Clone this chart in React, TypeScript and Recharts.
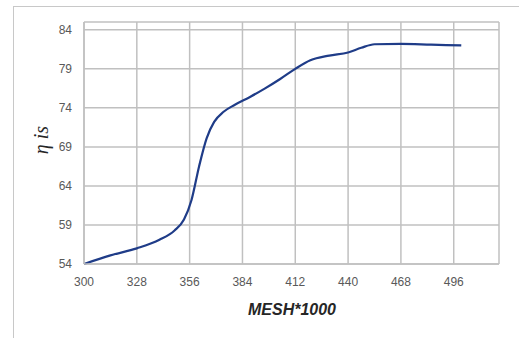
import { CartesianGrid, Line, LineChart, XAxis, YAxis } from "recharts";

const meshValues = [300, 314, 328, 340, 348, 353, 357, 361, 365, 369, 374, 380, 388, 396, 404, 412, 420, 430, 440, 447, 454, 468, 484, 500];
const etaValues = [54, 55.1, 56.0, 57.1, 58.3, 59.7, 62.2, 66.5, 70.1, 72.2, 73.5, 74.4, 75.4, 76.5, 77.7, 79.0, 80.1, 80.7, 81.1, 81.7, 82.15, 82.2, 82.1, 82.0];
const xTicks = [300, 328, 356, 384, 412, 440, 468, 496];
const yTicks = [54, 59, 64, 69, 74, 79, 84];

const data = meshValues.map((mesh, i) => ({ mesh, eta: etaValues[i] }));

const gridColor = "#c0c0c0";
const tickStyle = { fontSize: 12, fill: "#595959", fontFamily: "'Liberation Sans Narrow', 'Liberation Sans', sans-serif" };

export default function App() {
  return (
    <div style={{ position: "absolute", left: 0, top: 0, width: 519, height: 338, background: "#fff" }}>
      <div
        style={{
          position: "absolute",
          left: 13,
          top: 6,
          right: 0,
          bottom: 0,
          borderTop: "1px solid #c8c8c8",
          borderLeft: "1px solid #c8c8c8",
        }}
      />
      <div style={{ position: "absolute", left: 0, top: 0 }}>
        <LineChart width={519} height={338} data={data} margin={{ top: 22, right: 20, bottom: 44, left: 24 }}>
          <CartesianGrid stroke={gridColor} strokeWidth={1.5} />
          <XAxis
            dataKey="mesh"
            type="number"
            domain={[300, 520]}
            ticks={xTicks}
            axisLine={{ stroke: gridColor, strokeWidth: 1.5 }}
            tickLine={false}
            tickMargin={7}
            tick={tickStyle}
            label={{
              content: () => (
                <text
                  x={292}
                  y={315}
                  textAnchor="middle"
                  fontSize={16}
                  fontWeight="bold"
                  fontStyle="italic"
                  fontFamily="'Liberation Sans', sans-serif"
                  fill="#262626"
                >
                  MESH*1000
                </text>
              ),
            }}
          />
          <YAxis
            type="number"
            width={60}
            domain={[54, 85]}
            ticks={yTicks}
            axisLine={{ stroke: gridColor, strokeWidth: 1.5 }}
            tickLine={false}
            tickMargin={6}
            tick={tickStyle}
            label={{
              content: () => (
                <text
                  x={48}
                  y={140}
                  transform="rotate(-90 48 140)"
                  textAnchor="middle"
                  fontSize={20}
                  fontStyle="italic"
                  fontFamily="'Liberation Serif', serif"
                  fill="#262626"
                >
                  η is
                </text>
              ),
            }}
          />
          <Line
            type="monotone"
            dataKey="eta"
            stroke="#1f3c88"
            strokeWidth={2.2}
            dot={false}
            isAnimationActive={false}
          />
        </LineChart>
      </div>
    </div>
  );
}
